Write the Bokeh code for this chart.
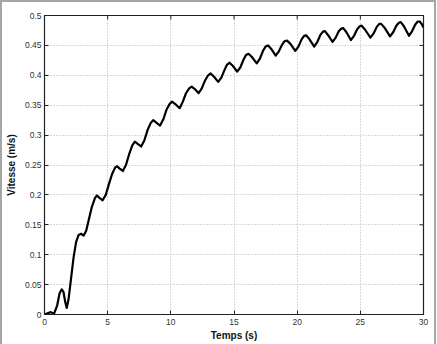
import math
from bokeh.plotting import figure
from bokeh.layouts import column
from bokeh.models import FixedTicker, NumeralTickFormatter, Range1d
from bokeh.embed import file_html
from bokeh.resources import INLINE

# Data
temps = [0.0, 0.25, 0.5, 0.75, 1.0, 1.2, 1.37, 1.5, 1.65, 1.76, 1.9, 2.1, 2.3, 2.5, 2.7, 2.9, 3.1,
         3.3, 3.5, 3.75, 4.0, 4.15, 4.35, 4.6, 4.85, 5.1, 5.35, 5.6, 5.75, 5.95, 6.2, 6.45, 6.7,
         6.95, 7.15, 7.4, 7.65, 7.9, 8.15, 8.4, 8.6, 8.85, 9.15, 9.4, 9.65, 9.9, 10.1, 10.35, 10.7,
         10.95, 11.2, 11.45, 11.65, 11.9, 12.2, 12.45, 12.7, 12.95, 13.15, 13.4, 13.75, 14.0, 14.25,
         14.45, 14.65, 14.9, 15.25, 15.5, 15.75, 15.95, 16.15, 16.4, 16.8, 17.05, 17.3, 17.5, 17.7,
         17.95, 18.3, 18.55, 18.8, 19.0, 19.2, 19.45, 19.85, 20.1, 20.35, 20.55, 20.7, 20.95, 21.35,
         21.6, 21.85, 22.05, 22.2, 22.45, 22.8, 23.05, 23.3, 23.5, 23.65, 23.9, 24.25, 24.5, 24.75,
         24.95, 25.1, 25.35, 25.8, 26.05, 26.3, 26.5, 26.65, 26.9, 27.35, 27.6, 27.85, 28.05, 28.2,
         28.45, 28.85, 29.1, 29.35, 29.55, 29.7, 29.85, 30.0]
vitesse = [0.000, 0.002, 0.004, 0.001, 0.015, 0.036, 0.042, 0.038, 0.020, 0.011, 0.025, 0.060, 0.095,
           0.121, 0.133, 0.135, 0.132, 0.140, 0.158, 0.180, 0.195, 0.199, 0.195, 0.191, 0.200, 0.218,
           0.235, 0.246, 0.248, 0.244, 0.240, 0.250, 0.268, 0.283, 0.289, 0.285, 0.281, 0.291, 0.308,
           0.320, 0.325, 0.321, 0.316, 0.326, 0.342, 0.352, 0.356, 0.352, 0.345, 0.356, 0.370, 0.378,
           0.381, 0.377, 0.370, 0.378, 0.391, 0.400, 0.403, 0.398, 0.389, 0.396, 0.409, 0.418, 0.421,
           0.416, 0.406, 0.413, 0.426, 0.434, 0.436, 0.431, 0.420, 0.428, 0.441, 0.448, 0.450, 0.444,
           0.433, 0.440, 0.451, 0.457, 0.458, 0.453, 0.441, 0.448, 0.460, 0.466, 0.467, 0.461, 0.448,
           0.456, 0.468, 0.473, 0.474, 0.467, 0.456, 0.463, 0.474, 0.478, 0.479, 0.472, 0.459, 0.466,
           0.477, 0.482, 0.483, 0.477, 0.463, 0.470, 0.481, 0.486, 0.486, 0.480, 0.465, 0.472, 0.483,
           0.488, 0.489, 0.482, 0.466, 0.474, 0.485, 0.490, 0.490, 0.486, 0.480]

x_ticks = [0, 5, 10, 15, 20, 25, 30]
y_ticks = [0, 0.05, 0.1, 0.15, 0.2, 0.25, 0.3, 0.35, 0.4, 0.45, 0.5]

FONT = "Liberation Sans"
AX = "#222222"

p = figure(frame_width=379, frame_height=299, output_backend="svg", toolbar_location=None,
           x_range=Range1d(x_ticks[0], x_ticks[-1]), y_range=Range1d(y_ticks[0], y_ticks[-1]),
           min_border_left=41, min_border_right=11, min_border_top=13, min_border_bottom=30,
           background_fill_color="white", border_fill_color="white")
p.outline_line_color = AX
p.outline_line_width = 1.2

p.xgrid.ticker = FixedTicker(ticks=x_ticks)
p.ygrid.ticker = FixedTicker(ticks=y_ticks)
p.grid.grid_line_color = "#b4b4b4"
p.grid.grid_line_dash = "1 2"
p.grid.grid_line_width = 1

p.line(temps, vitesse, line_color="black", line_width=2.2, line_join="round")

# mirrored inward tick marks on the right and top edges (MATLAB box style);
# markers centred on the frame edge are clipped to the frame, leaving the inner half
p.scatter([x_ticks[-1]] * len(y_ticks), y_ticks, marker="dash", size=8,
          line_color=AX, line_width=1)
p.scatter(x_ticks, [y_ticks[-1]] * len(x_ticks), marker="dash", size=8,
          angle=math.pi / 2, line_color=AX, line_width=1)

for ax in (p.xaxis[0], p.yaxis[0]):
    ax.axis_line_color = AX
    ax.major_tick_line_color = AX
    ax.major_tick_in = 4
    ax.major_tick_out = 0
    ax.minor_tick_line_color = None
    ax.major_label_text_font = FONT
    ax.major_label_text_font_size = "8.5px"
    ax.major_label_text_color = "#333333"
    ax.axis_label_text_font = FONT
    ax.axis_label_text_font_size = "10px"
    ax.axis_label_text_font_style = "bold"
    ax.axis_label_text_color = "#111111"

p.xaxis[0].ticker = FixedTicker(ticks=x_ticks)
p.yaxis[0].ticker = FixedTicker(ticks=y_ticks)
p.yaxis[0].formatter = NumeralTickFormatter(format="0.[00]")
p.xaxis[0].axis_label = "Temps (s)"
p.yaxis[0].axis_label = "Vitesse (m/s)"
p.xaxis[0].major_label_standoff = 4
p.yaxis[0].major_label_standoff = 3
p.xaxis[0].axis_label_standoff = 2
p.yaxis[0].axis_label_standoff = 5

# outer grey frame of the image (open at the bottom), as in the reference
page = column(p, styles={"border-left": "2px solid #a6a6a6", "border-top": "2px solid #a6a6a6",
                         "border-right": "2px solid #a6a6a6", "background": "white"})

open("out.html", "w").write(file_html(page, INLINE))
